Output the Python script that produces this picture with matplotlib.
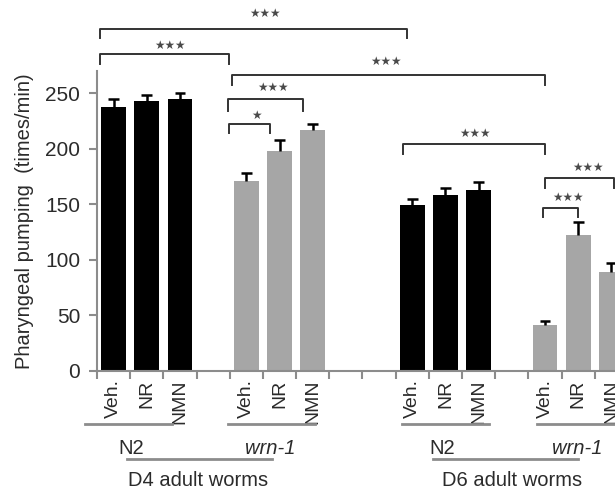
import matplotlib.pyplot as plt
import matplotlib.transforms as mtransforms
import numpy as np

plt.rcParams['font.family'] = ['Liberation Sans', 'DejaVu Sans']

# data (times/min)
treatments = ["Veh.", "NR", "NMN"]
n2_d4 = [238, 243, 245]
n2_d4_err = [7, 5, 5]
wrn_d4 = [171, 198, 217]
wrn_d4_err = [7, 10, 5]
n2_d6 = [149, 158, 163]
n2_d6_err = [6, 7, 7]
wrn_d6 = [41, 122, 89]
wrn_d6_err = [4, 12, 8]

# slot positions for each group (empty slots between groups)
slots = [[0, 1, 2], [4, 5, 6], [9, 10, 11], [13, 14, 15]]
groups = [(n2_d4, n2_d4_err, 'black'), (wrn_d4, wrn_d4_err, '#a6a6a6'),
          (n2_d6, n2_d6_err, 'black'), (wrn_d6, wrn_d6_err, '#a6a6a6')]

# significance brackets: x1, x2, y of bar, drop, star x, star y, n stars
brackets = [
    (-0.41, 8.84, 308, 8, 4.56, 322, 3),
    (-0.40, 3.48, 285, 8.5, 1.7, 293, 3),
    (3.57, 12.99, 266, 8.5, 8.2, 279, 3),
    (3.45, 5.70, 245, 11, 4.8, 255, 3),
    (3.48, 4.70, 222.5, 8, 4.3, 230, 1),
    (8.72, 12.99, 204.5, 9, 10.9, 214, 3),
    (12.99, 15.07, 174, 9, 14.3, 183, 3),
    (12.93, 13.99, 147, 8, 13.7, 156, 3),
]

txt = '#2b2b2b'
axcol = '#8c8c8c'

fig = plt.figure(figsize=(6.15, 4.95), dpi=100)
ax = fig.add_axes([97/615, 124/495, 531/615, 300/495])

for (vals, errs, col), xs in zip(groups, slots):
    xs = np.array(xs)
    tops = np.array(vals) + np.array(errs)
    ax.bar(xs, vals, width=0.75, color=col, zorder=2)
    ax.vlines(xs, vals, tops, color='black', lw=1.8, zorder=3)
    ax.hlines(tops, xs - 0.16, xs + 0.16, color='black', lw=1.8, zorder=3)

ax.set_xlim(-0.5, 15.5)
ax.set_ylim(0, 270)
ax.set_yticks([0, 50, 100, 150, 200, 250])
ax.tick_params(axis='y', labelsize=15, colors=axcol, labelcolor=txt,
               length=6, width=1.5, pad=6)

centers = [x for xs in slots for x in xs]
ax.set_xticks(centers)
ax.set_xticklabels(treatments * 4, rotation=90, fontsize=14, color=txt)
ax.set_xticks(np.arange(-0.5, 16, 1), minor=True)
ax.tick_params(axis='x', which='major', length=0, pad=6)
ax.tick_params(axis='x', which='minor', length=6, width=1.5, color=axcol)

for s in ['top', 'right']:
    ax.spines[s].set_visible(False)
for s in ['left', 'bottom']:
    ax.spines[s].set_color(axcol)
    ax.spines[s].set_linewidth(1.5)

ax.set_ylabel("Pharyngeal pumping  (times/min)", fontsize=14.5, color=txt,
              labelpad=8)

for x1, x2, y, d, sx, sy, n in brackets:
    ax.plot([x1, x1, x2, x2], [y - d, y, y, y - d], color='#333333', lw=1.4,
            clip_on=False)
    ax.text(sx, sy, "\u2605" * n, ha='center', va='center',
            fontsize=8.5, color='#4a4a4a', family='DejaVu Sans', clip_on=False)

# group labels below the axis
tr = mtransforms.blended_transform_factory(ax.transData, fig.transFigure)
lines = [(-0.86, 1.76, 424), (3.45, 6.07, 424), (0.4, 4.77, 459),
         (8.69, 11.31, 424), (12.75, 16.0, 424), (9.62, 13.99, 459)]
for x1, x2, yp in lines:
    ax.plot([x1, x2], [1 - yp/495] * 2, color=axcol, lw=2, transform=tr,
            clip_on=False)

labels = [(0.54, 448, "N2", 'normal'), (4.71, 448, "wrn-1", 'italic'),
          (2.54, 480, "D4 adult worms", 'normal'),
          (9.89, 448, "N2", 'normal'), (13.96, 448, "wrn-1", 'italic'),
          (12.0, 480, "D6 adult worms", 'normal')]
for x, yp, s, st in labels:
    ax.text(x, 1 - yp/495, s, transform=tr, ha='center', va='center',
            fontsize=14.5, color=txt, style=st)

fig.savefig("out.png", dpi=100)
